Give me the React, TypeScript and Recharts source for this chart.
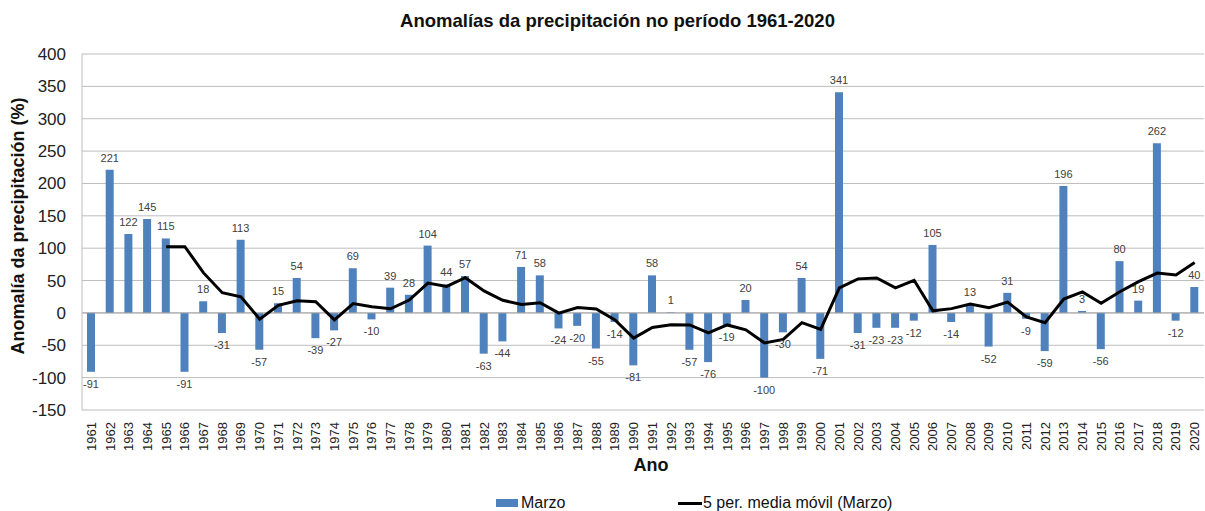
import React from "react";
import { ComposedChart, Bar, Line, XAxis, YAxis, CartesianGrid, ReferenceLine, LabelList } from "recharts";

const years = [
  "1961","1962","1963","1964","1965","1966","1967","1968","1969","1970",
  "1971","1972","1973","1974","1975","1976","1977","1978","1979","1980",
  "1981","1982","1983","1984","1985","1986","1987","1988","1989","1990",
  "1991","1992","1993","1994","1995","1996","1997","1998","1999","2000",
  "2001","2002","2003","2004","2005","2006","2007","2008","2009","2010",
  "2011","2012","2013","2014","2015","2016","2017","2018","2019","2020",
];

const marzo = [
  -91, 221, 122, 145, 115, -91, 18, -31, 113, -57,
  15, 54, -39, -27, 69, -10, 39, 28, 104, 44,
  57, -63, -44, 71, 58, -24, -20, -55, -14, -81,
  58, 1, -57, -76, -19, 20, -100, -30, 54, -71,
  341, -31, -23, -23, -12, 105, -14, 13, -52, 31,
  -9, -59, 196, 3, -56, 80, 19, 262, -12, 40,
];

const mediaMovil: (number | null)[] = [
  null, null, null, null, 102.4, 102.4, 61.8, 31.2, 24.8, -9.6,
  11.6, 18.8, 17.2, -10.8, 14.4, 9.4, 6.4, 19.8, 46, 41,
  54.4, 34, 19.6, 13, 15.8, -0.4, 8.2, 6, -11, -38.8,
  -22.4, -18.2, -18.6, -31, -18.6, -26.2, -46.4, -41, -15, -25.4,
  38.8, 52.6, 54, 38.6, 50.4, 3.2, 6.6, 13.8, 8, 16.6,
  -6.2, -15.2, 21.4, 32.4, 15, 32.8, 48.4, 61.6, 58.6, 77.8,
];

const yTicks = [-150, -100, -50, 0, 50, 100, 150, 200, 250, 300, 350, 400];

const data = years.map((y, i) => ({ year: y, marzo: marzo[i], ma: mediaMovil[i] }));

const FONT = "'Liberation Sans', Arial, sans-serif";

const YearTick = (props: any) => {
  const { x, y, payload } = props;
  return (
    <text
      x={x}
      y={y}
      transform={`rotate(-90, ${x}, ${y})`}
      textAnchor="end"
      dx={-10}
      dy={4.5}
      fontSize={13}
      fontFamily={FONT}
      fill="#222"
    >
      {payload.value}
    </text>
  );
};

const ValueLabel = (props: any) => {
  const { x, y, width, height, value } = props;
  const top = Math.min(y, y + height);
  const bottom = Math.max(y, y + height);
  const cx = x + width / 2;
  const ty = value >= 0 ? top - 8 : bottom + 16;
  return (
    <text x={cx} y={ty} textAnchor="middle" fontSize={11} fontFamily={FONT} fill="#404040">
      {value}
    </text>
  );
};

export default function App() {
  return (
    <div style={{ position: "absolute", left: 0, top: 0, width: 1205, height: 511, background: "#fff", fontFamily: FONT }}>
      <div style={{ position: "absolute", left: 0, width: 1235, top: 10, textAlign: "center", fontSize: 18.5, fontWeight: "bold", color: "#111" }}>
        Anomalías da precipitación no período 1961-2020
      </div>
      <ComposedChart
        width={1205}
        height={511}
        data={data}
        margin={{ top: 54, right: 1, left: 0, bottom: 0 }}
        barSize={8}
      >
        <CartesianGrid vertical={false} stroke="#bdbdbd" strokeWidth={1} />
        <XAxis
          dataKey="year"
          interval={0}
          height={101}
          axisLine={false}
          tickLine={false}
          tickSize={0}
          tick={<YearTick />}
        />
        <YAxis
          width={82}
          domain={[-150, 400]}
          ticks={yTicks}
          interval={0}
          axisLine={{ stroke: "#bdbdbd" }}
          tickLine={false}
          tick={{ fontSize: 17, fill: "#222", fontFamily: FONT }}
          tickMargin={10}
        />
        <ReferenceLine y={0} stroke="#a6a6a6" strokeWidth={1} />
        <Bar dataKey="marzo" fill="#4f81bd" isAnimationActive={false}>
          <LabelList dataKey="marzo" content={<ValueLabel />} />
        </Bar>
        <Line
          dataKey="ma"
          type="linear"
          stroke="#000"
          strokeWidth={3}
          dot={false}
          activeDot={false}
          connectNulls={false}
          isAnimationActive={false}
        />
      </ComposedChart>
      <div
        style={{
          position: "absolute",
          left: 18,
          top: 226,
          transform: "translate(-50%, -50%) rotate(-90deg)",
          whiteSpace: "nowrap",
          fontSize: 18,
          fontWeight: "bold",
          color: "#111",
        }}
      >
        Anomalía da precipitación (%)
      </div>
      <div
        style={{
          position: "absolute",
          left: 651,
          top: 455,
          transform: "translateX(-50%)",
          fontSize: 18,
          fontWeight: "bold",
          color: "#111",
        }}
      >
        Ano
      </div>
      <div style={{ position: "absolute", left: 496, top: 494, display: "flex", alignItems: "center", fontSize: 16, color: "#111" }}>
        <span style={{ display: "inline-block", width: 22, height: 8, background: "#4f81bd", marginRight: 3 }} />
        <span>Marzo</span>
      </div>
      <div style={{ position: "absolute", left: 678, top: 494, display: "flex", alignItems: "center", fontSize: 16, color: "#111" }}>
        <span style={{ display: "inline-block", width: 24, height: 3, background: "#000", marginRight: 1 }} />
        <span>5 per. media móvil (Marzo)</span>
      </div>
    </div>
  );
}
